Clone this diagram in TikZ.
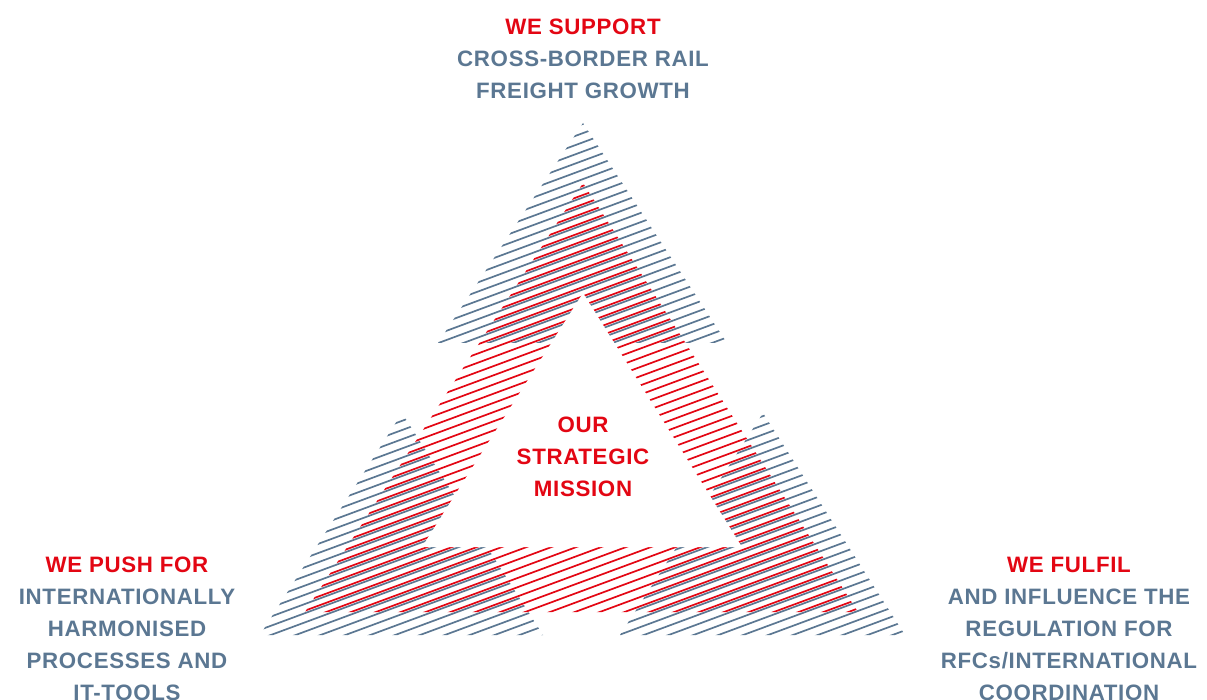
\documentclass[tikz,border=0pt]{standalone}
\usepackage{fontspec}
\setmainfont{Liberation Sans}[LetterSpace=3]
\definecolor{missionred}{HTML}{E30613}
\definecolor{missiongray}{HTML}{5B7792}
\tikzset{
  hatchgray/.style={draw=missiongray, line width=1.7pt},
  hatchred/.style={draw=missionred, line width=1.7pt},
  redtext/.style={text=missionred, font=\bfseries\fontsize{22.3}{32}\selectfont, inner sep=0pt, anchor=base},
  graytext/.style={redtext, text=missiongray},
}

\begin{document}
\begin{tikzpicture}[x=1pt,y=-1pt]
  \useasboundingbox (0,0) rectangle (1207,700);
  % grey hatched triangles
  \foreach \A/\B/\C in {{583,123}/{438,343}/{727,343}, {402,413}/{260,635}/{543,635}, {763,413}/{620,635}/{905,635}} {
    \begin{scope}
      \clip (\A) -- (\B) -- (\C) -- cycle;
      \foreach \k in {0,...,90}
        \draw[hatchgray] (200,100+9.2*\k) -- ++(800,-296);
    \end{scope}
  }
  % red hatched ring
  \begin{scope}
    \clip (583,183) -- (305,612) -- (858,612) -- cycle;
    \foreach \k in {0,...,90}
      \draw[hatchred] (200,97.5+9.2*\k) -- ++(800,-296);
  \end{scope}
  \fill[white] (583,293) -- (422,547) -- (742,547) -- cycle;

  % labels
  \node[redtext] (support) at (583,35) {WE SUPPORT};
  \foreach \T [count=\i] in {CROSS-BORDER RAIL, FREIGHT GROWTH}
    \node[graytext] (support-\i) at (583,35+32*\i) {\T};

  \foreach \T [count=\i from 0] in {OUR, STRATEGIC, MISSION}
    \node[redtext] (mission-\i) at (583,432+32*\i) {\T};

  \node[redtext] (push) at (127,572) {WE PUSH FOR};
  \foreach \T [count=\i] in {INTERNATIONALLY, HARMONISED, PROCESSES AND, IT-TOOLS}
    \node[graytext] (push-\i) at (127,572+32*\i) {\T};

  \node[redtext] (fulfil) at (1069,572) {WE FULFIL};
  \foreach \T [count=\i] in {AND INFLUENCE THE, REGULATION FOR, {RFCs/INTERNATIONAL}, COORDINATION}
    \node[graytext] (fulfil-\i) at (1069,572+32*\i) {\T};
\end{tikzpicture}
\end{document}
